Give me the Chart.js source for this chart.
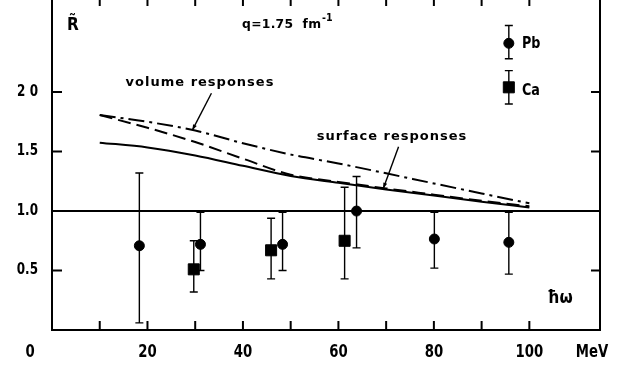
<!DOCTYPE html>
<html>
<head>
<meta charset="utf-8">
<script src="https://cdn.jsdelivr.net/npm/chart.js@4/dist/chart.umd.min.js"></script>
<style>
  body { margin: 0; background: #fff; }
</style>
</head>
<body>
<canvas id="responseChart" width="628" height="370"></canvas>
<script>
// theory curves (R~ vs hbar omega in MeV)
const energies = [10, 20, 30, 40, 50, 60, 70, 80, 90, 100];
const surfaceCurve = [1.575, 1.535, 1.467, 1.38, 1.295, 1.237, 1.182, 1.13, 1.079, 1.03];
const volumeDashed = [1.807, 1.70, 1.58, 1.44, 1.305, 1.245, 1.19, 1.138, 1.086, 1.04];
const volumeDashDot = [1.807, 1.75, 1.677, 1.57, 1.475, 1.40, 1.317, 1.232, 1.148, 1.065];

// measured points
const pbEnergy = [18.3, 31.1, 48.3, 63.8, 80.1, 95.7];
const pbValue = [0.708, 0.72, 0.72, 1.0, 0.765, 0.737];
const pbLow = [0.06, 0.5, 0.5, 0.69, 0.52, 0.47];
const pbHigh = [1.32, 0.99, 0.99, 1.29, 0.99, 0.99];

const caEnergy = [29.7, 45.9, 61.3];
const caValue = [0.51, 0.67, 0.75];
const caLow = [0.32, 0.43, 0.43];
const caHigh = [0.75, 0.94, 1.20];

// legend keys, drawn in data space like the figure
const legendPb = [{ x: 95.7, y: 2.41, lo: 2.28, hi: 2.56 }];
const legendCa = [{ x: 95.7, y: 2.04, lo: 1.90, hi: 2.18 }];

const xTickLabels = ['20', '40', '60', '80', '100'];
const xTicks = [20, 40, 60, 80, 100];
const yTicks = [0.5, 1.0, 1.5, 2.0];
const yTickLabels = ['0.5', '1.0', '1.5', '2 0'];

function toPoints(xs, ys, lows, highs) {
    return xs.map((x, i) => ({ x, y: ys[i], lo: lows ? lows[i] : null, hi: highs ? highs[i] : null }));
}

function drawText(ctx, s, x, y, size, align = 'center', sx = 1, weight = 'bold', spacing = '0px') {
    ctx.save();
    ctx.font = `${weight} ${size}px "DejaVu Sans"`;
    ctx.textAlign = align;
    ctx.textBaseline = 'middle';
    ctx.letterSpacing = spacing;
    ctx.translate(x, y);
    ctx.scale(sx, 1);
    ctx.fillStyle = '#000';
    ctx.fillText(s, 0, 0);
    ctx.restore();
}

function pointer(ctx, x0, y0, x1, y1) {
    ctx.beginPath();
    ctx.moveTo(x0, y0);
    ctx.lineTo(x1, y1);
    ctx.stroke();
    const ang = Math.atan2(y1 - y0, x1 - x0);
    ctx.beginPath();
    ctx.moveTo(x1, y1);
    ctx.lineTo(x1 - 6 * Math.cos(ang - 0.35), y1 - 6 * Math.sin(ang - 0.35));
    ctx.lineTo(x1 - 6 * Math.cos(ang + 0.35), y1 - 6 * Math.sin(ang + 0.35));
    ctx.closePath();
    ctx.fill();
}

const framePlugin = {
    id: 'frame',
    beforeDatasetsDraw(chart) {
        const { ctx, chartArea: a, scales: { x, y } } = chart;
        ctx.save();
        ctx.strokeStyle = '#000';
        ctx.fillStyle = '#000';
        ctx.lineWidth = 2;
        ctx.beginPath();
        ctx.moveTo(a.left, a.top);
        ctx.lineTo(a.left, a.bottom);
        ctx.lineTo(a.right, a.bottom);
        ctx.lineTo(a.right, a.top);
        const y1 = y.getPixelForValue(1);
        ctx.moveTo(a.left, y1);
        ctx.lineTo(a.right, y1);
        for (let v = 10; v <= 100; v += 10) {
            const px = x.getPixelForValue(v);
            ctx.moveTo(px, a.bottom);
            ctx.lineTo(px, a.bottom - 9);
            ctx.moveTo(px, a.top);
            ctx.lineTo(px, a.top + 6);
        }
        yTicks.forEach((v) => {
            const py = y.getPixelForValue(v);
            ctx.moveTo(a.left, py);
            ctx.lineTo(a.left + 10, py);
            ctx.moveTo(a.right, py);
            ctx.lineTo(a.right - 9, py);
        });
        ctx.stroke();

        // error bars
        ctx.lineWidth = 1.4;
        chart.data.datasets.forEach((ds, i) => {
            if (!ds.errorBars || !chart.isDatasetVisible(i)) return;
            ds.data.forEach((p) => {
                const px = x.getPixelForValue(p.x);
                const pl = y.getPixelForValue(p.lo);
                const ph = y.getPixelForValue(p.hi);
                ctx.beginPath();
                ctx.moveTo(px, pl);
                ctx.lineTo(px, ph);
                ctx.moveTo(px - 4, pl);
                ctx.lineTo(px + 4, pl);
                ctx.moveTo(px - 4, ph);
                ctx.lineTo(px + 4, ph);
                ctx.stroke();
            });
        });

        // pointers to the curves
        ctx.lineWidth = 1.4;
        pointer(ctx, x.getPixelForValue(33.4), y.getPixelForValue(1.99), x.getPixelForValue(29.4), y.getPixelForValue(1.68));
        pointer(ctx, x.getPixelForValue(72.6), y.getPixelForValue(1.54), x.getPixelForValue(69.4), y.getPixelForValue(1.19));
        ctx.restore();

        // tick labels
        xTicks.forEach((v, i) => drawText(ctx, xTickLabels[i], x.getPixelForValue(v), 353, 17, 'center', 0.78));
        drawText(ctx, '0', 30, 353, 17, 'center', 0.78);
        drawText(ctx, 'MeV', 592, 353, 17, 'center', 0.78);
        yTicks.forEach((v, i) => drawText(ctx, yTickLabels[i], 38, y.getPixelForValue(v), 15, 'right', 0.8));

        // annotations
        drawText(ctx, 'R\u0303', 73, 25, 18, 'center', 0.85, 'bold');
        drawText(ctx, 'q=1.75  fm', 242, 25, 13, 'left', 0.95, 'bold', '0.3px');
        drawText(ctx, '-1', 322, 18, 10, 'left', 0.95, 'bold');
        drawText(ctx, 'Pb', 522, 44, 15, 'left', 0.85);
        drawText(ctx, 'Ca', 522, 91, 15, 'left', 0.85);
        drawText(ctx, 'volume responses', 200, 83, 13, 'center', 1, 'bold', '1px');
        drawText(ctx, 'surface responses', 392, 137, 13, 'center', 1, 'bold', '1px');
        drawText(ctx, '\u0127\u03c9', 560, 299, 17, 'center', 0.9, 'bold');
    }
};

const curveStyle = {
    showLine: true,
    pointRadius: 0,
    borderColor: '#000',
    borderWidth: 2,
    cubicInterpolationMode: 'monotone',
    fill: false,
};

const markerStyle = {
    showLine: false,
    backgroundColor: '#000',
    borderColor: '#000',
    errorBars: true,
};

new Chart(document.getElementById('responseChart').getContext('2d'), {
    type: 'scatter',
    data: {
        datasets: [
            { ...curveStyle, label: 'surface', data: toPoints(energies, surfaceCurve) },
            { ...curveStyle, label: 'volume dashed', data: toPoints(energies, volumeDashed), borderDash: [13, 6] },
            { ...curveStyle, label: 'volume dash-dot', data: toPoints(energies, volumeDashDot), borderDash: [16, 5, 3, 5] },
            { ...markerStyle, label: 'Pb', data: toPoints(pbEnergy, pbValue, pbLow, pbHigh), pointStyle: 'circle', pointRadius: 5 },
            { ...markerStyle, label: 'Ca', data: toPoints(caEnergy, caValue, caLow, caHigh), pointStyle: 'rect', pointRadius: 7.8 },
            { ...markerStyle, label: 'Pb key', data: legendPb, pointStyle: 'circle', pointRadius: 5 },
            { ...markerStyle, label: 'Ca key', data: legendCa, pointStyle: 'rect', pointRadius: 7.8 },
        ],
    },
    options: {
        responsive: false,
        animation: false,
        layout: { autoPadding: false, padding: { left: 52, right: 28, top: 0, bottom: 40 } },
        scales: {
            x: { type: 'linear', min: 0, max: 114.8, display: false },
            y: { type: 'linear', min: 0, max: 2.774, display: false },
        },
        plugins: {
            legend: { display: false },
            tooltip: { enabled: false },
        },
    },
    plugins: [framePlugin],
});
</script>
</body>
</html>
